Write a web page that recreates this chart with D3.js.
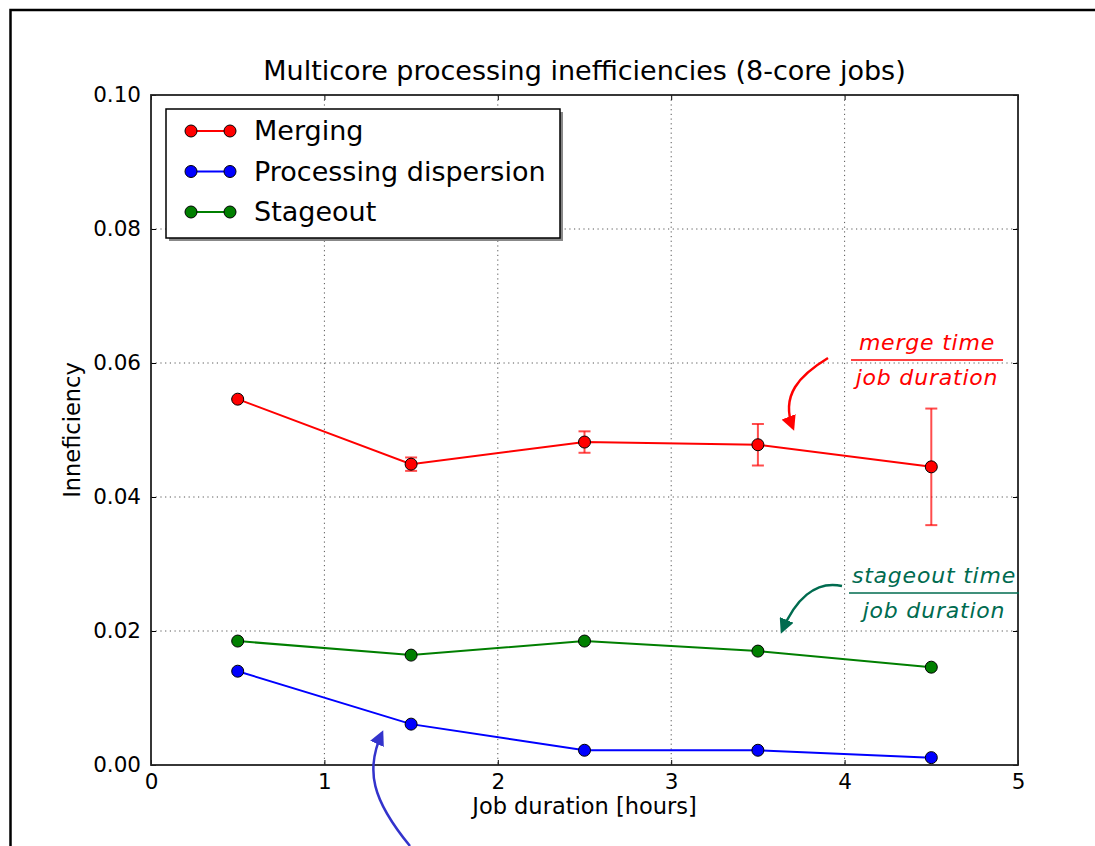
<!DOCTYPE html>
<html>
<head>
<meta charset="utf-8">
<script src="https://cdn.jsdelivr.net/npm/d3@7"></script>
<style>
  body { margin: 0; background: #fff; }
  text { font-family: "DejaVu Sans", sans-serif; }
</style>
</head>
<body>
<svg id="chart" width="1095" height="846"></svg>
<script>
// job duration bins (hours)
const durations = [0.5, 1.5, 2.5, 3.5, 4.5]
const merging = [0.0546, 0.0449, 0.0482, 0.0478, 0.0445]
const mergingErr = [0, 0.0010, 0.0016, 0.0031, 0.0087]
const dispersion = [0.0140, 0.0061, 0.0022, 0.0022, 0.0011]
const stageout = [0.0185, 0.0164, 0.0185, 0.0170, 0.0146]
const xTicks = [0, 1, 2, 3, 4, 5]
const yTicks = [0, 0.02, 0.04, 0.06, 0.08, 0.10]

const series = [
  { name: 'Merging', values: merging, err: mergingErr, color: '#ff0000' },
  { name: 'Processing dispersion', values: dispersion, err: null, color: '#0000ff' },
  { name: 'Stageout', values: stageout, err: null, color: '#007f00' },
]

const margin = { top: 95, right: 77, bottom: 81, left: 151 }
const svg = d3.select('#chart')
const width = +svg.attr('width') - margin.left - margin.right
const height = +svg.attr('height') - margin.top - margin.bottom

// outer frame of the figure (only top/left fall inside the picture)
svg.append('path')
    .attr('d', 'M1095,10 H10.5 V846')
    .attr('fill', 'none').attr('stroke', '#000').attr('stroke-width', 2.5)

const g = svg.append('g').attr('transform', 'translate(' + margin.left + ',' + margin.top + ')')

const x = d3.scaleLinear().domain([0, 5]).range([0, width])
const y = d3.scaleLinear().domain([0, 0.10]).range([height, 0])

// dotted grid
g.append('g').selectAll('line').data(xTicks.slice(1, -1)).enter().append('line')
    .attr('x1', d => x(d)).attr('x2', d => x(d)).attr('y1', 0).attr('y2', height)
    .attr('stroke', '#555').attr('stroke-width', 1).attr('stroke-dasharray', '1.2,3.5')
g.append('g').selectAll('line').data(yTicks.slice(1, -1)).enter().append('line')
    .attr('y1', d => y(d)).attr('y2', d => y(d)).attr('x1', 0).attr('x2', width)
    .attr('stroke', '#555').attr('stroke-width', 1).attr('stroke-dasharray', '1.2,3.5')

// axes, ticks pointing inward like old matplotlib
const axisStyle = (sel) => {
  sel.select('.domain').remove()
  sel.selectAll('.tick line').attr('stroke', '#000').attr('stroke-width', 1)
  sel.selectAll('.tick text').attr('fill', '#000').style('font-size', '21.5px')
}
g.append('g').attr('transform', 'translate(0,' + height + ')')
    .call(d3.axisBottom(x).tickValues(xTicks).tickFormat(d3.format('d')).tickSizeInner(-5).tickPadding(9))
    .call(axisStyle)
g.append('g')
    .call(d3.axisTop(x).tickValues(xTicks).tickFormat('').tickSizeInner(-5))
    .call(axisStyle)
g.append('g')
    .call(d3.axisLeft(y).tickValues(yTicks).tickFormat(d3.format('.2f')).tickSizeInner(-5).tickPadding(10))
    .call(axisStyle)
g.append('g').attr('transform', 'translate(' + width + ',0)')
    .call(d3.axisRight(y).tickValues(yTicks).tickFormat('').tickSizeInner(-5))
    .call(axisStyle)

// plot frame
g.append('rect').attr('width', width).attr('height', height)
    .attr('fill', 'none').attr('stroke', '#222').attr('stroke-width', 1.8)

// titles
svg.append('text').attr('x', margin.left + width / 2).attr('y', 80)
    .attr('text-anchor', 'middle').style('font-size', '27px').text('Multicore processing inefficiencies (8-core jobs)')
svg.append('text').attr('x', margin.left + width / 2).attr('y', 814)
    .attr('text-anchor', 'middle').style('font-size', '22.5px').text('Job duration [hours]')
svg.append('text').attr('transform', 'translate(80,' + (margin.top + height / 2) + ') rotate(-90)')
    .attr('text-anchor', 'middle').style('font-size', '22.5px').text('Inneficiency')

// series
const line = d3.line().x((d, i) => x(durations[i])).y(d => y(d))
series.forEach(s => {
  const sg = g.append('g')
  if (s.err) {
    const eb = sg.selectAll('.err').data(s.values).enter().append('g')
        .attr('stroke', s.color).attr('stroke-opacity', 0.7).attr('stroke-width', 2)
    eb.append('line')
        .attr('x1', (d, i) => x(durations[i])).attr('x2', (d, i) => x(durations[i]))
        .attr('y1', (d, i) => y(d - s.err[i])).attr('y2', (d, i) => y(d + s.err[i]))
    eb.append('line')
        .attr('x1', (d, i) => x(durations[i]) - 6).attr('x2', (d, i) => x(durations[i]) + 6)
        .attr('y1', (d, i) => y(d - s.err[i])).attr('y2', (d, i) => y(d - s.err[i]))
    eb.append('line')
        .attr('x1', (d, i) => x(durations[i]) - 6).attr('x2', (d, i) => x(durations[i]) + 6)
        .attr('y1', (d, i) => y(d + s.err[i])).attr('y2', (d, i) => y(d + s.err[i]))
  }
  sg.append('path').datum(s.values).attr('d', line)
      .attr('fill', 'none').attr('stroke', s.color).attr('stroke-width', 2)
  sg.selectAll('circle').data(s.values).enter().append('circle')
      .attr('cx', (d, i) => x(durations[i])).attr('cy', d => y(d)).attr('r', 6)
      .attr('fill', s.color).attr('stroke', '#000').attr('stroke-width', 1)
})

// legend
const lg = g.append('g').attr('transform', 'translate(15,14)')
lg.append('rect').attr('x', 3).attr('y', 3).attr('width', 394).attr('height', 129).attr('fill', '#888')
lg.append('rect').attr('width', 394).attr('height', 129).attr('fill', '#fff')
    .attr('stroke', '#000').attr('stroke-width', 1.5)
series.forEach((s, i) => {
  const row = lg.append('g').attr('transform', 'translate(0,' + (22 + i * 40.5) + ')')
  row.append('line').attr('x1', 25).attr('x2', 64).attr('stroke', s.color).attr('stroke-width', 2)
  row.selectAll('circle').data([25, 64]).enter().append('circle')
      .attr('cx', d => d).attr('r', 6).attr('fill', s.color).attr('stroke', '#000').attr('stroke-width', 1)
  row.append('text').attr('x', 88).attr('y', 9).style('font-size', '27px').text(s.name)
})

// annotations
svg.append('defs').selectAll('marker').data(['#ff0000', '#006b4f', '#3333cc']).enter().append('marker')
    .attr('id', (d, i) => 'ah' + i).attr('viewBox', '0 0 10 10').attr('refX', 8).attr('refY', 5)
    .attr('markerWidth', 6).attr('markerHeight', 6).attr('orient', 'auto').attr('markerUnits', 'strokeWidth')
  .append('path').attr('d', 'M0,0 L10,5 L0,10 z').attr('fill', d => d)

const frac = (cx, cy, num, den, color, w) => {
  const fg = svg.append('g').attr('fill', color)
      .style('font-family', '"DejaVu Serif", serif').style('font-style', 'italic').style('font-size', '22px')
  fg.append('text').attr('x', cx).attr('y', cy - 10).attr('text-anchor', 'middle').style('letter-spacing', '0.8px').text(num)
  fg.append('line').attr('x1', cx - w / 2).attr('x2', cx + w / 2).attr('y1', cy).attr('y2', cy)
      .attr('stroke', color).attr('stroke-width', 1.3)
  fg.append('text').attr('x', cx).attr('y', cy + 25).attr('text-anchor', 'middle').style('letter-spacing', '0.8px').text(den)
}
frac(927, 360, 'merge time', 'job duration', '#ff0000', 152)
frac(934, 593, 'stageout time', 'job duration', '#006b4f', 170)

svg.append('path').attr('d', 'M828,358 C800,375 780,395 793,428')
    .attr('fill', 'none').attr('stroke', '#ff0000').attr('stroke-width', 2.5).attr('marker-end', 'url(#ah0)')
svg.append('path').attr('d', 'M842,586 C815,580 795,600 782,631')
    .attr('fill', 'none').attr('stroke', '#006b4f').attr('stroke-width', 2.5).attr('marker-end', 'url(#ah1)')
svg.append('path').attr('d', 'M410,846 C372,800 365,770 382,733')
    .attr('fill', 'none').attr('stroke', '#3333cc').attr('stroke-width', 2.5).attr('marker-end', 'url(#ah2)')
</script>
</body>
</html>
